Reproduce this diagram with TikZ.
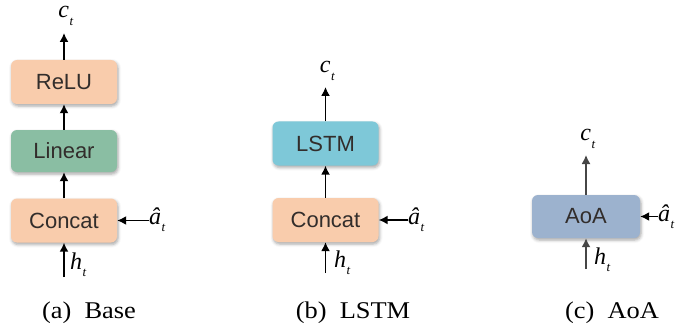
\documentclass[tikz,border=0pt]{standalone}
\usepackage{fontspec}
\usepackage{graphicx}
\setmainfont{Liberation Serif}
\setsansfont{Liberation Sans}
\usetikzlibrary{arrows.meta,shadows.blur}

\definecolor{peach}{RGB}{249,204,172}
\definecolor{sage}{RGB}{138,190,163}
\definecolor{skyteal}{RGB}{126,200,216}
\definecolor{slateblue}{RGB}{156,178,206}
\definecolor{labelgray}{RGB}{50,45,43}
\definecolor{arrowgray}{RGB}{70,70,70}

% italic symbol with an italic subscript
\newcommand{\symsub}[2]{\textit{#1}\kern0.5pt\raisebox{-0.3em}{\fontsize{13}{14}\selectfont\textit{#2}}}

\tikzset{
  block/.style={rounded corners=6pt, minimum width=106pt, minimum height=44pt,
    inner sep=0pt, font=\sffamily\fontsize{22}{24}\selectfont, text=labelgray,
    blur shadow={shadow xshift=1pt, shadow yshift=-2pt, shadow blur radius=3pt, shadow opacity=35}},
  var/.style={inner sep=0pt, font=\fontsize{24}{26}\selectfont},
  flow/.style={-{Latex[length=9pt,width=9pt]}, line width=1.5pt, black},
  caption/.style={inner sep=0pt, anchor=base, font=\fontsize{24}{26}\selectfont}
}

\begin{document}
\begin{tikzpicture}[x=1pt,y=-1pt]
\useasboundingbox (0,0) rectangle (690,326);

% (a) Base: Concat -> Linear -> ReLU
\node[block, fill=peach] (reluA) at (64,82) {ReLU};
\node[block, fill=sage, minimum height=42pt] (linA) at (64,151) {Linear};
\node[block, fill=peach] (catA) at (64,220.5) {Concat};
\node[var] (cA) at (66,16) {\symsub{c}{t}};
\node[var, anchor=west] (hA) at (70,265) {\symsub{h}{t}};
\node[var, anchor=west] (aA) at (149,220) {\symsub{â}{t}};
\coordinate (cAtip) at (64,33);
\coordinate (hAtail) at (64,277);
\coordinate (aAtail) at (149,220.5);
\draw[flow] (reluA.north) -- (cAtip);
\draw[flow] (linA.north) -- (reluA.south);
\draw[flow] (catA.north) -- (linA.south);
\draw[flow] (hAtail) -- (catA.south);
\draw[flow] (aAtail) -- (catA.east);
\node[caption] (capA) at (89,318) {\scalebox{1.1}[1]{(a)~~Base}};

% (b) LSTM: Concat -> LSTM
\node[block, fill=skyteal] (lstmB) at (325.5,143.5) {LSTM};
\node[block, fill=peach] (catB) at (325.5,220) {Concat};
\node[var] (cB) at (327.5,71) {\symsub{c}{t}};
\node[var, anchor=west] (hB) at (334,263) {\symsub{h}{t}};
\node[var, anchor=west] (aB) at (408,220) {\symsub{â}{t}};
\coordinate (cBtip) at (325.5,87);
\coordinate (hBtail) at (325.5,273);
\coordinate (aBtail) at (408,220);
\draw[flow] (lstmB.north) -- (cBtip);
\draw[flow] (catB.north) -- (lstmB.south);
\draw[flow] (hBtail) -- (catB.south);
\draw[flow] (aBtail) -- (catB.east);
\node[caption] (capB) at (353,318) {\scalebox{1.1}[1]{(b)~~LSTM}};

% (c) AoA
\node[block, fill=slateblue, minimum width=108pt, minimum height=43pt] (aoaC) at (586,216.5) {AoA};
\node[var] (cC) at (588,139) {\symsub{c}{t}};
\node[var, anchor=west] (hC) at (594,260) {\symsub{h}{t}};
\node[var, anchor=west] (aC) at (658,217) {\symsub{â}{t}};
\coordinate (cCtip) at (586,155);
\coordinate (hCtail) at (586,269);
\coordinate (aCtail) at (658,216.5);
\draw[flow, arrowgray] (aoaC.north) -- (cCtip);
\draw[flow, arrowgray] (hCtail) -- (aoaC.south);
\draw[flow] (aCtail) -- (aoaC.east);
\node[caption] (capC) at (612,318) {\scalebox{1.1}[1]{(c)~~AoA}};
\end{tikzpicture}
\end{document}
